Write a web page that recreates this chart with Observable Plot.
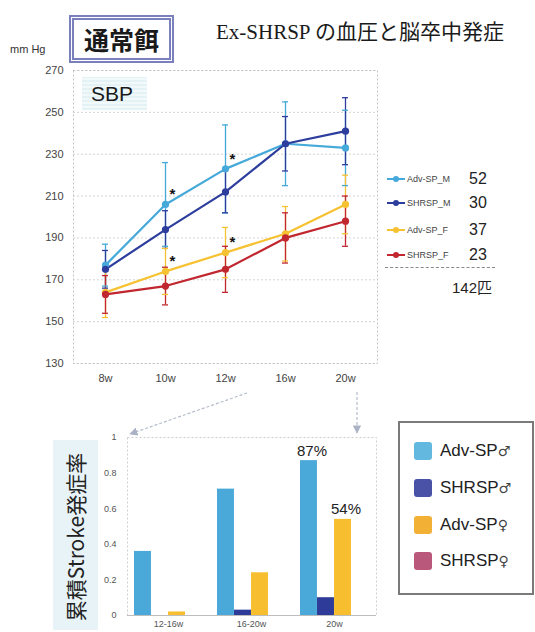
<!DOCTYPE html>
<html>
<head>
<meta charset="utf-8">
<script src="https://cdn.jsdelivr.net/npm/d3@7"></script>
<script src="https://cdn.jsdelivr.net/npm/@observablehq/plot@0.6"></script>
<style>
html,body{margin:0;padding:0;background:#fff;overflow:hidden;}
#wrap{position:relative;width:535px;height:632px;overflow:hidden;font-family:"Liberation Sans",Arial,sans-serif;color:#222;}
.abs{position:absolute;}
#title{left:216px;top:20px;font-family:"Liberation Serif","Noto Sans CJK JP",serif;font-size:21px;line-height:24px;white-space:nowrap;color:#1a1a1a;}
#diet{left:69px;top:15px;width:105px;height:48px;box-sizing:border-box;border:5px double #7a80bb;display:flex;align-items:center;justify-content:center;font-family:"Noto Sans CJK JP",sans-serif;font-weight:bold;font-size:25px;color:#1a1a1a;background:#fff;}
#unit{left:10px;top:43px;font-size:11px;color:#333;}
#sbp{left:82px;top:77px;width:65px;height:33px;background:repeating-linear-gradient(0deg,#e4f2f5 0 2px,#f1f9fb 2px 4px);font-size:21px;line-height:33px;padding-left:9px;box-sizing:border-box;color:#1a1a1a;}
.lrow{position:absolute;left:385px;height:16px;display:flex;align-items:center;}
.lname{font-size:9px;color:#444;margin-left:2px;width:62px;white-space:nowrap;}
.lcount{font-size:16px;color:#222;}
#sumline{left:385px;top:267px;width:110px;border-top:1.5px dashed #888;}
#total{left:452px;top:279px;font-size:15px;line-height:18px;color:#222;font-family:"Liberation Sans","Noto Sans CJK JP",sans-serif;}
#ytitle{left:53px;top:440px;width:45px;height:190px;background:#e8f3f7;}
#ytitle span{position:absolute;left:22px;top:97px;transform:translate(-50%,-50%) rotate(-90deg);white-space:nowrap;font-family:"Noto Sans CJK JP",sans-serif;font-size:21px;color:#222;}
#blegend{left:398px;top:421px;width:136px;height:174px;box-sizing:border-box;border:2px solid #7a7a7a;background:#fff;}
.brow{position:absolute;left:14px;display:flex;align-items:center;height:20px;}
.sw{width:18px;height:18px;border-radius:3px;margin-right:8px;}
.bname{font-size:17px;color:#222;white-space:nowrap;}
.bname .sym{font-family:"DejaVu Sans",sans-serif;font-size:14px;color:#444;}
</style>
</head>
<body>
<div id="wrap"></div>
<script>
// ---------- data: systolic blood pressure (mm Hg) ----------
const weeks = ["8w", "10w", "12w", "16w", "20w"];
const lineSeries = ["Adv-SP_M", "SHRSP_M", "Adv-SP_F", "SHRSP_F"];
const lineColors = ["#45a9da", "#2d3d9d", "#f6c232", "#c1272f"];
const advSpM   = [177, 206, 223, 235, 233];
const advSpMsd = [10, 20, 21, 20, 18];
const shrspM   = [175, 194, 212, 235, 241];
const shrspMsd = [9, 9, 10, 13, 16];
const advSpF   = [164, 174, 183, 192, 206];
const advSpFsd = [12, 11, 12, 13, 14];
const shrspF   = [163, 167, 175, 190, 198];
const shrspFsd = [9, 9, 11, 12, 12];
const counts = [52, 30, 37, 23];
const sigWeeks = ["10w", "12w"];
const sigSeries = ["Adv-SP_M", "Adv-SP_F"];
const sbpTicks = [130, 150, 170, 190, 210, 230, 250, 270];

// ---------- data: cumulative stroke incidence ----------
const periods = ["12-16w", "16-20w", "20w"];
const barSeries = ["Adv-SP♂", "SHRSP♂", "Adv-SP♀", "SHRSP♀"];
const barColors = ["#4aa9d9", "#2e3b98", "#f7bf30", "#bf5b78"];
const swatchColors = ["#63b8e0", "#4a52a8", "#f2b035", "#b9587a"];
const advSpMale   = [0.36, 0.71, 0.87];
const shrspMale   = [0.00, 0.03, 0.10];
const advSpFemale = [0.02, 0.24, 0.54];
const shrspFemale = [0.00, 0.00, 0.00];
const labeledPeriod = "20w";
const labeledSeries = ["Adv-SP♂", "Adv-SP♀"];
const rateTicks = [0, 0.2, 0.4, 0.6, 0.8, 1];

// ---------- tables ----------
const means = [advSpM, shrspM, advSpF, shrspF];
const sds = [advSpMsd, shrspMsd, advSpFsd, shrspFsd];
const sbp = lineSeries.flatMap((s, i) => weeks.map((w, j) => ({
  series: s, week: w, value: means[i][j],
  lo: means[i][j] - sds[i][j], hi: means[i][j] + sds[i][j]
})));
const stars = sbp.filter(d => sigWeeks.includes(d.week) && sigSeries.includes(d.series));

const rates = [advSpMale, shrspMale, advSpFemale, shrspFemale];
const bars = barSeries.flatMap((s, i) => periods.map((p, j) => ({series: s, period: p, rate: rates[i][j]})));

const wrap = document.getElementById("wrap");
function add(html) { wrap.insertAdjacentHTML("beforeend", html); }
function place(el, left, top) {
  const d = document.createElement("div");
  d.className = "abs"; d.style.left = left + "px"; d.style.top = top + "px";
  d.appendChild(el); wrap.appendChild(d); return d;
}

const font = "Liberation Sans, Arial, sans-serif";

// ---------- top chart ----------
const topChart = Plot.plot({
  width: 535, height: 395,
  marginLeft: 73, marginRight: 158, marginTop: 70, marginBottom: 32,
  style: {fontFamily: font, fontSize: "11px", color: "#444", background: "transparent", overflow: "visible"},
  x: {type: "point", domain: weeks, padding: 0.5, label: null, tickSize: 0, tickPadding: 11},
  y: {domain: [130, 270], ticks: sbpTicks, label: null, tickSize: 0, tickPadding: 10},
  color: {domain: lineSeries, range: lineColors},
  marks: [
    Plot.ruleY(sbpTicks, {stroke: "#d4d4d4", strokeDasharray: "2,2"}),
    Plot.frame({stroke: "#c4c4c4", strokeDasharray: "2,2"}),
    Plot.ruleX(sbp, {x: "week", y1: "lo", y2: "hi", stroke: "series", strokeWidth: 1.3}),
    Plot.ruleY(sbp, {y: "lo", x1: "week", x2: "week", insetLeft: -3, insetRight: -3, stroke: "series", strokeWidth: 1.3}),
    Plot.ruleY(sbp, {y: "hi", x1: "week", x2: "week", insetLeft: -3, insetRight: -3, stroke: "series", strokeWidth: 1.3}),
    Plot.line(sbp, {x: "week", y: "value", z: "series", stroke: "series", strokeWidth: 2.2}),
    Plot.dot(sbp, {x: "week", y: "value", fill: "series", r: 3.6}),
    Plot.text(stars, {x: "week", y: "value", text: () => "*", dx: 7, dy: -10, fontSize: 15, fontWeight: "bold", fill: "#111"})
  ]
});
place(topChart, 0, 0);

// ---------- bar chart ----------
const bLeft = 127, bRight = 159, bWidth = 535;
const padIn = 0.18, padOut = 0.09;
const innerW = bWidth - bLeft - bRight;
const step = innerW / (periods.length - padIn + 2 * padOut);
const bandW = step * (1 - padIn);
const w = bandW / barSeries.length;

const barMarks = [
  Plot.frame({stroke: "#cfcfcf", strokeDasharray: "2,2"}),
  Plot.ruleY([0], {stroke: "#bdbdbd"})
];
barSeries.forEach((s, i) => {
  const rows = bars.filter(d => d.series === s);
  barMarks.push(Plot.barY(rows, {x: "period", y: "rate", fill: "series", insetLeft: i * w, insetRight: (barSeries.length - 1 - i) * w}));
  if (labeledSeries.includes(s)) {
    barMarks.push(Plot.text(rows.filter(d => d.period === labeledPeriod), {
      x: "period", y: "rate", text: d => Math.round(d.rate * 100) + "%",
      dx: i * w + w / 2 - bandW / 2 + 3, dy: -5, lineAnchor: "bottom",
      fontSize: 15, fill: "#222"
    }));
  }
});

const barChart = Plot.plot({
  width: bWidth, height: 212,
  marginLeft: bLeft, marginRight: bRight, marginTop: 17, marginBottom: 17,
  style: {fontFamily: font, fontSize: "9px", color: "#555", background: "transparent", overflow: "visible"},
  x: {type: "band", domain: periods, paddingInner: padIn, paddingOuter: padOut, label: null, tickSize: 0, tickPadding: 5},
  y: {domain: [0, 1], ticks: rateTicks, tickFormat: d => String(d), label: null, tickSize: 0, tickPadding: 11},
  color: {domain: barSeries, range: barColors},
  marks: barMarks
});
place(barChart, 0, 420);

// ---------- texts & legends ----------
add(`<div class="abs" id="title">Ex-SHRSP の血圧と脳卒中発症</div>`);
add(`<div class="abs" id="diet">通常餌</div>`);
add(`<div class="abs" id="unit">mm Hg</div>`);
add(`<div class="abs" id="sbp">SBP</div>`);

const rowY = [179, 203, 230, 255];
lineSeries.forEach((s, i) => {
  add(`<div class="lrow" style="top:${rowY[i] - 8}px">
    <svg width="20" height="10"><line x1="2" y1="5" x2="20" y2="5" stroke="${lineColors[i]}" stroke-width="2"/><circle cx="11" cy="5" r="3" fill="${lineColors[i]}"/></svg>
    <span class="lname">${s}</span><span class="lcount">${counts[i]}</span></div>`);
});
add(`<div class="abs" id="sumline"></div>`);
add(`<div class="abs" id="total">${d3.sum(counts)}匹</div>`);

add(`<div class="abs" id="ytitle"><span>累積Stroke発症率</span></div>`);

const bRowY = [28, 65, 102, 138];
let lg = `<div class="abs" id="blegend">`;
barSeries.forEach((s, i) => {
  const name = s.slice(0, -1), sym = s.slice(-1);
  lg += `<div class="brow" style="top:${bRowY[i] - 10}px"><div class="sw" style="background:${swatchColors[i]}"></div><span class="bname">${name}<span class="sym">${sym}</span></span></div>`;
});
lg += `</div>`;
add(lg);

// decorative connector arrows between the two panels
add(`<svg class="abs" style="left:0;top:0;pointer-events:none" width="535" height="632">
  <defs><marker id="ah" viewBox="0 0 10 10" refX="9" refY="5" markerWidth="7" markerHeight="7" orient="auto-start-reverse"><path d="M0,0L10,5L0,10z" fill="#aab3c6"/></marker></defs>
  <line x1="247" y1="393" x2="130" y2="434" stroke="#b4bccb" stroke-width="1.2" stroke-dasharray="3,2" marker-end="url(#ah)"/>
  <line x1="357" y1="392" x2="357" y2="433" stroke="#b4bccb" stroke-width="1.2" stroke-dasharray="3,2" marker-end="url(#ah)"/>
</svg>`);
</script>
</body>
</html>
